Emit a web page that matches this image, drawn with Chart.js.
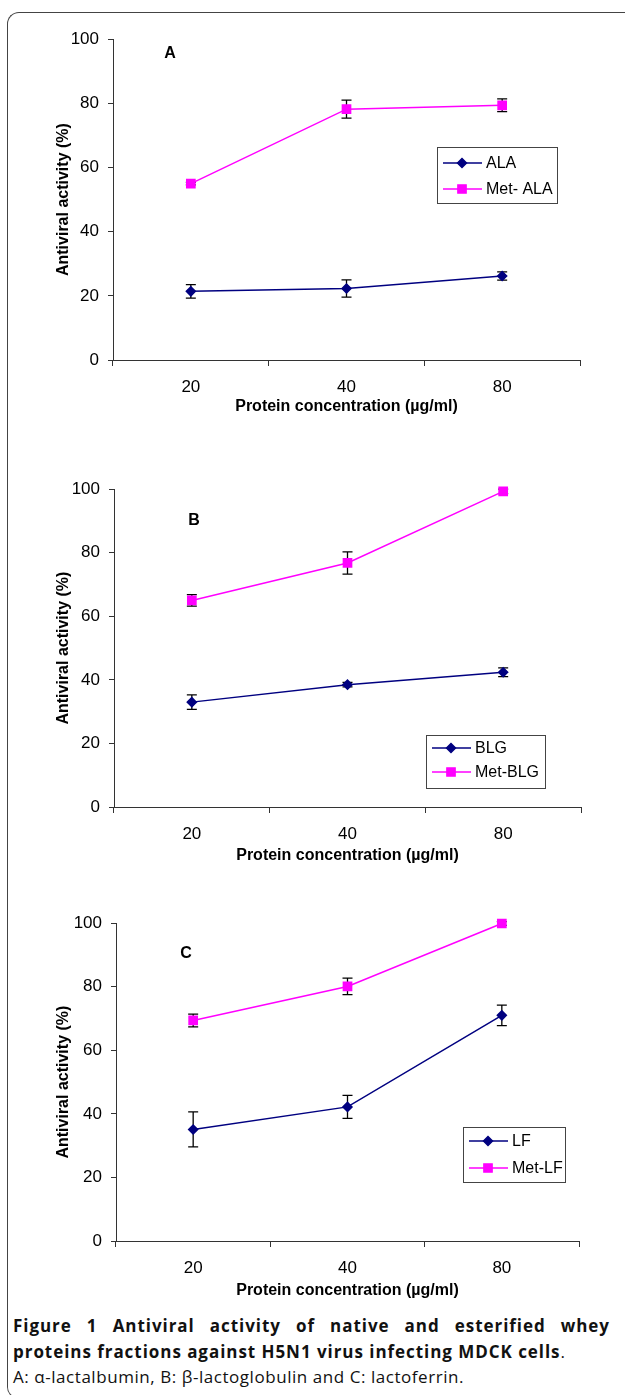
<!DOCTYPE html>
<html>
<head>
<meta charset="utf-8">
<script src="https://cdn.jsdelivr.net/npm/chart.js@4.4.1/dist/chart.umd.min.js"></script>
<style>
body { margin: 0; background: #fff; width: 625px; height: 1395px; position: relative; overflow: hidden; }
.frame { position: absolute; left: 7px; top: 12px; width: 700px; height: 1385px; border: 1px solid #444; border-right: none; border-radius: 12px 0 0 12px; }
canvas { position: absolute; left: 0; }
.cap { position: absolute; left: 13px; width: 597px; font-family: "Open Sans", sans-serif; font-size: 17px; color: #111; line-height: 23.5px; white-space: nowrap; letter-spacing: 0.55px; }
.cap b { font-weight: 700; letter-spacing: 0.95px; }
.just { text-align: justify; text-align-last: justify; white-space: normal; }
</style>
</head>
<body>
<div class="frame"></div>
<canvas id="chartA" width="625" height="398" style="top:20px"></canvas>
<canvas id="chartB" width="625" height="397" style="top:470px"></canvas>
<canvas id="chartC" width="625" height="398" style="top:904px"></canvas>

<div class="cap just" style="top:1314px"><b>Figure 1 Antiviral activity of native and esterified whey</b></div>
<div class="cap" style="top:1340px"><b>proteins fractions against H5N1 virus infecting MDCK cells</b>.</div>
<div class="cap" style="top:1365px">A: α-lactalbumin, B: β-lactoglobulin and C: lactoferrin.</div>

<script>
// values (antiviral activity %, with error bars)
var concentrations = ['20', '40', '80'];

var alaValues = [21.4, 22.3, 26.2];
var alaErrors = [2.1, 2.7, 1.3];
var metAlaValues = [55.0, 78.2, 79.4];
var metAlaErrors = [0.4, 2.8, 2.0];

var blgValues = [33.0, 38.5, 42.4];
var blgErrors = [2.3, 0.7, 1.4];
var metBlgValues = [65.0, 76.8, 99.3];
var metBlgErrors = [1.8, 3.5, 0.7];

var lfValues = [35.1, 42.2, 71.0];
var lfErrors = [5.5, 3.6, 3.2];
var metLfValues = [69.4, 80.1, 99.9];
var metLfErrors = [2.0, 2.6, 0.6];

var yMin = 0, yMax = 100, yStep = 20;

var NAVY = '#000080';
var MAGENTA = '#ff00ff';
var AXIS = '#333333';
var sans = "'Liberation Sans', Arial, sans-serif";

// draws the vertical error bars under the markers
var errorBars = {
  id: 'errorBars',
  beforeDatasetsDraw: function(chart) {
    var ctx = chart.ctx;
    var xs = chart.scales.x, ys = chart.scales.y;
    ctx.save();
    ctx.strokeStyle = '#000';
    ctx.lineWidth = 1.3;
    chart.data.datasets.forEach(function(ds) {
      ds.data.forEach(function(v, i) {
        var px = xs.getPixelForValue(i);
        var hi = ys.getPixelForValue(v + ds.errors[i]);
        var lo = ys.getPixelForValue(v - ds.errors[i]);
        ctx.beginPath();
        ctx.moveTo(px, hi); ctx.lineTo(px, lo);
        ctx.moveTo(px - 5, hi); ctx.lineTo(px + 5, hi);
        ctx.moveTo(px - 5, lo); ctx.lineTo(px + 5, lo);
        ctx.stroke();
      });
    });
    ctx.restore();
  }
};

// boxed legend inside the plot + panel letter
var boxLegend = {
  id: 'boxLegend',
  afterDraw: function(chart, args, opts) {
    var ctx = chart.ctx;
    var top = opts.canvasTop;
    ctx.save();
    ctx.strokeStyle = '#444';
    ctx.lineWidth = 1;
    var bx = opts.x, by = opts.y - top;
    ctx.strokeRect(bx + 0.5, by + 0.5, opts.w, opts.h);
    chart.data.datasets.forEach(function(ds, i) {
      var ry = by + opts.rows[i];
      ctx.strokeStyle = ds.borderColor;
      ctx.lineWidth = 1.5;
      ctx.beginPath();
      ctx.moveTo(bx + 6, ry); ctx.lineTo(bx + 45, ry);
      ctx.stroke();
      ctx.fillStyle = ds.pointBackgroundColor;
      Chart.helpers.drawPoint(ctx, { pointStyle: ds.pointStyle, radius: ds.pointRadius, rotation: 0, borderWidth: 1 }, bx + 25, ry);
      ctx.fillStyle = '#000';
      ctx.font = '16px ' + sans;
      ctx.textBaseline = 'middle';
      ctx.textAlign = 'left';
      ctx.fillText(ds.label, bx + 49, ry + 1);
    });
    ctx.font = 'bold 16px ' + sans;
    ctx.fillStyle = '#000';
    ctx.textAlign = 'center';
    ctx.textBaseline = 'middle';
    ctx.fillText(opts.letter, opts.letterX, opts.letterY - top);
    ctx.restore();
  }
};

function makePanel(id, names, values, errors, geo) {
  var ctx = document.getElementById(id).getContext('2d');
  var canvasBottom = geo.canvasTop + geo.canvasHeight;
  return new Chart(ctx, {
    type: 'line',
    data: {
      labels: concentrations,
      datasets: [{
        label: names[0],
        data: values[0],
        errors: errors[0],
        borderColor: NAVY,
        backgroundColor: NAVY,
        pointBackgroundColor: NAVY,
        pointBorderColor: NAVY,
        borderWidth: 1.5,
        pointStyle: 'rectRot',
        pointRadius: 4.5,
        tension: 0,
        clip: false
      }, {
        label: names[1],
        data: values[1],
        errors: errors[1],
        borderColor: MAGENTA,
        backgroundColor: MAGENTA,
        pointBackgroundColor: MAGENTA,
        pointBorderColor: MAGENTA,
        borderWidth: 1.5,
        pointStyle: 'rect',
        pointRadius: 5.8,
        tension: 0,
        clip: false
      }]
    },
    options: {
      responsive: false,
      animation: false,
      events: [],
      layout: { padding: { top: geo.areaTop - geo.canvasTop, right: 625 - geo.areaRight, left: 0, bottom: 0 } },
      plugins: {
        legend: { display: false },
        tooltip: { enabled: false },
        boxLegend: {
          canvasTop: geo.canvasTop, x: geo.legend[0], y: geo.legend[1], w: geo.legend[2], h: geo.legend[3],
          rows: geo.rows, letter: geo.letter, letterX: geo.letterPos[0], letterY: geo.letterPos[1]
        }
      },
      scales: {
        x: {
          type: 'category',
          offset: true,
          grid: { offset: true, drawOnChartArea: false, tickLength: 6, color: AXIS },
          border: { color: AXIS, width: 1 },
          ticks: { color: '#000', padding: 11, font: { family: sans, size: 17 } },
          title: {
            display: true,
            text: 'Protein concentration (µg/ml)',
            color: '#000',
            font: { family: sans, size: 16, weight: 'bold', lineHeight: 1.2 },
            padding: { top: 0, bottom: 2 }
          },
          afterFit: function(scale) { scale.height = canvasBottom - geo.areaBottom; }
        },
        y: {
          min: yMin,
          max: yMax,
          grid: { drawOnChartArea: false, tickLength: 5, color: AXIS },
          border: { color: AXIS, width: 1 },
          ticks: { stepSize: yStep, color: '#000', padding: 9, font: { family: sans, size: 17 } },
          title: {
            display: true,
            text: 'Antiviral activity (%)',
            color: '#000',
            font: { family: sans, size: 16, weight: 'bold', lineHeight: 1.2 },
            padding: { top: 54, bottom: 0 }
          },
          afterFit: function(scale) { scale.width = geo.areaLeft; }
        }
      }
    },
    plugins: [errorBars, boxLegend]
  });
}

makePanel('chartA', ['ALA', 'Met- ALA'], [alaValues, metAlaValues], [alaErrors, metAlaErrors], {
  canvasTop: 20, canvasHeight: 398, areaTop: 37, areaBottom: 360, areaLeft: 113, areaRight: 580,
  legend: [437, 147, 120, 56], rows: [16, 42], letter: 'A', letterPos: [170, 54]
});
makePanel('chartB', ['BLG', 'Met-BLG'], [blgValues, metBlgValues], [blgErrors, metBlgErrors], {
  canvasTop: 470, canvasHeight: 397, areaTop: 486, areaBottom: 807, areaLeft: 114, areaRight: 581,
  legend: [426, 735, 119, 53], rows: [13, 37], letter: 'B', letterPos: [194, 521]
});
makePanel('chartC', ['LF', 'Met-LF'], [lfValues, metLfValues], [lfErrors, metLfErrors], {
  canvasTop: 904, canvasHeight: 398, areaTop: 920, areaBottom: 1241, areaLeft: 116, areaRight: 579,
  legend: [463, 1127, 102, 55], rows: [14, 41], letter: 'C', letterPos: [186, 954]
});
</script>
</body>
</html>
